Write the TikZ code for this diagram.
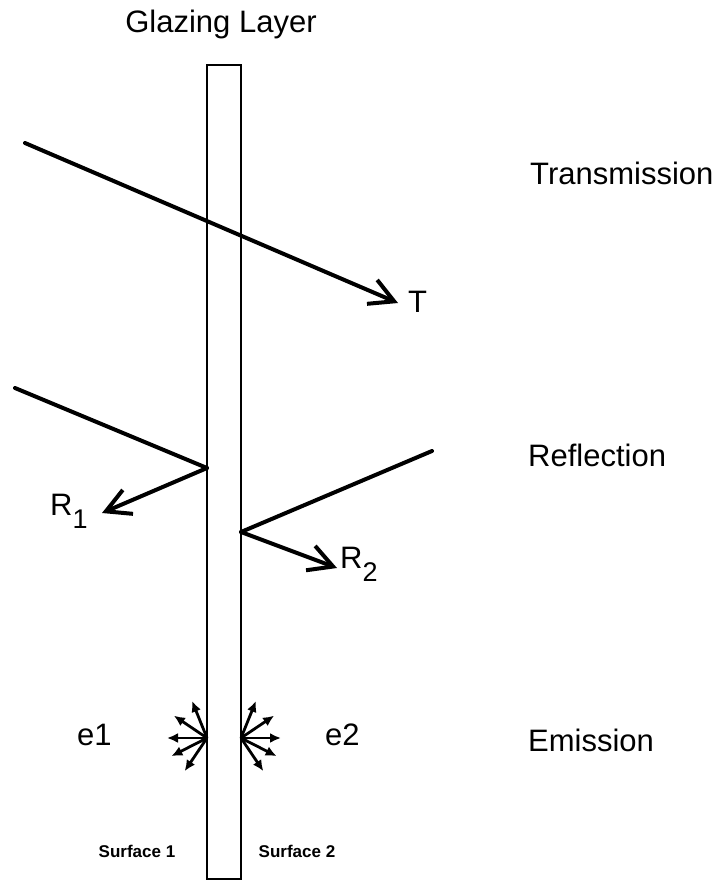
\documentclass[tikz,border=0pt]{standalone}
\usepackage{fontspec}
\setmainfont{Liberation Sans}
\usetikzlibrary{arrows.meta}
\begin{document}
\begin{tikzpicture}[x=1pt,y=-1pt,
  plain/.style={line width=4pt,line cap=round},
  ray/.style={plain,-{Straight Barb[length=24pt,width=26pt,line width=4pt]}},
  emit/.style={line width=2.8pt,-{Latex[length=11pt,width=10pt]}},
  layer/.style={line width=2pt},
  lbl/.style={font=\fontsize{31}{37}\selectfont,inner sep=0pt,anchor=base west},
  sml/.style={font=\bfseries\fontsize{17}{20}\selectfont,inner sep=0pt,anchor=base}]
\useasboundingbox (0,0) rectangle (723,882);
% glazing layer
\draw[layer] (207,65) rectangle (241,879);
% transmission
\coordinate (tA) at (25,143);
\coordinate (tB) at (398,303);
\draw[ray] (tA) -- (tB);
% reflection 1
\coordinate (r1A) at (15,388);
\coordinate (r1P) at (207,468);
\coordinate (r1B) at (102,513);
\draw[plain] (r1A) -- (r1P);
\draw[ray] (r1P) -- (r1B);
% reflection 2
\coordinate (r2A) at (432,451);
\coordinate (r2P) at (241,532);
\coordinate (r2B) at (337,568);
\draw[plain] (r2A) -- (r2P);
\draw[ray] (r2P) -- (r2B);
% emission
\coordinate (e1c) at (207,738);
\coordinate (e2c) at (241,738);
\foreach \a in {112,146,180,207,236} \draw[emit] (e1c) -- ++(-\a:40);
\foreach \a in {68,34,0,-27,-56} \draw[emit] (e2c) -- ++(-\a:40);
% labels
\node[lbl,anchor=base] (gl) at (221,33) {Glazing Layer};
\node[lbl] (tr) at (530,185) {Transmission};
\node[lbl] (rf) at (528,466) {Reflection};
\node[lbl] (em) at (528,751) {Emission};
\node[lbl] (tl) at (408,312) {T};
\node[lbl] (r1) at (50,515) {R\raisebox{-13pt}{\fontsize{27}{30}\selectfont 1}};
\node[lbl] (r2) at (340,568) {R\raisebox{-13pt}{\fontsize{27}{30}\selectfont 2}};
\node[lbl] (e1) at (77,745) {e1};
\node[lbl] (e2) at (325,745) {e2};
\node[sml] (s1) at (137,857) {Surface 1};
\node[sml] (s2) at (297,857) {Surface 2};
\end{tikzpicture}
\end{document}
